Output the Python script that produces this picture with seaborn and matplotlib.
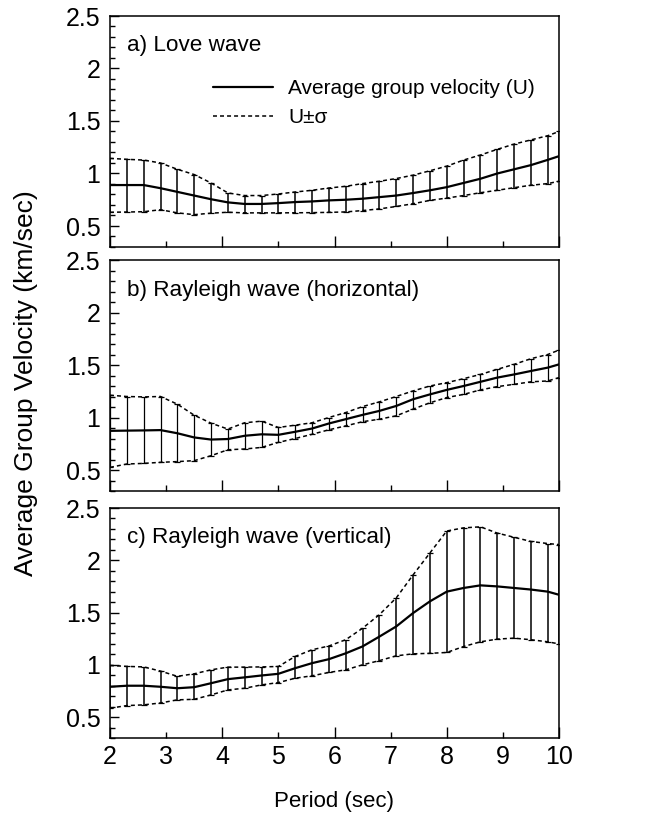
import numpy as np
import pandas as pd
import matplotlib
matplotlib.use("Agg")
import matplotlib.pyplot as plt
from matplotlib.ticker import MultipleLocator, FixedLocator, FixedFormatter
import seaborn as sns

sns.set_style("white")
plt.rcParams['font.family'] = ['Liberation Sans', 'DejaVu Sans']
plt.rcParams['text.color'] = 'black'
plt.rcParams['axes.labelcolor'] = 'black'
plt.rcParams['xtick.color'] = 'black'
plt.rcParams['ytick.color'] = 'black'

period = [2.0, 2.3, 2.6, 2.9, 3.2, 3.5, 3.8, 4.1, 4.4, 4.7, 5.0, 5.3, 5.6, 5.9,
          6.2, 6.5, 6.8, 7.1, 7.4, 7.7, 8.0, 8.3, 8.6, 8.9, 9.2, 9.5, 9.8, 10.0]

love_mean = [0.89, 0.89, 0.89, 0.86, 0.825, 0.79, 0.755, 0.725, 0.71, 0.71, 0.718, 0.728, 0.734, 0.744,
             0.75, 0.76, 0.775, 0.79, 0.814, 0.84, 0.87, 0.91, 0.95, 1.0, 1.04, 1.08, 1.13, 1.165]
love_upper = [1.144, 1.135, 1.128, 1.10, 1.04, 0.99, 0.91, 0.815, 0.79, 0.79, 0.805, 0.824, 0.84, 0.862,
              0.878, 0.904, 0.926, 0.952, 0.984, 1.026, 1.07, 1.128, 1.176, 1.23, 1.28, 1.32, 1.36, 1.40]
love_lower = [0.631, 0.633, 0.636, 0.655, 0.625, 0.608, 0.622, 0.631, 0.625, 0.625, 0.625, 0.626, 0.627, 0.63,
              0.634, 0.647, 0.663, 0.686, 0.712, 0.744, 0.766, 0.79, 0.817, 0.84, 0.865, 0.888, 0.904, 0.926]

rh_mean = [0.873, 0.875, 0.877, 0.88, 0.85, 0.81, 0.79, 0.795, 0.826, 0.84, 0.835, 0.864, 0.895, 0.943,
           0.984, 1.025, 1.063, 1.11, 1.174, 1.22, 1.263, 1.30, 1.34, 1.38, 1.41, 1.443, 1.475, 1.506]
rh_upper = [1.212, 1.20, 1.196, 1.20, 1.127, 1.022, 0.946, 0.89, 0.95, 0.965, 0.905, 0.927, 0.95, 1.0,
            1.047, 1.104, 1.149, 1.2, 1.253, 1.30, 1.332, 1.37, 1.41, 1.459, 1.506, 1.56, 1.60, 1.642]
rh_lower = [0.525, 0.557, 0.563, 0.573, 0.58, 0.589, 0.636, 0.693, 0.70, 0.715, 0.763, 0.80, 0.84, 0.883,
            0.92, 0.96, 0.984, 1.016, 1.08, 1.14, 1.19, 1.22, 1.263, 1.294, 1.316, 1.34, 1.348, 1.38]

rv_mean = [0.79, 0.80, 0.80, 0.79, 0.776, 0.786, 0.824, 0.863, 0.88, 0.898, 0.914, 0.968, 1.016, 1.054,
           1.11, 1.176, 1.27, 1.367, 1.495, 1.607, 1.70, 1.735, 1.76, 1.75, 1.735, 1.72, 1.70, 1.67]
rv_upper = [0.994, 0.985, 0.98, 0.94, 0.89, 0.914, 0.952, 0.978, 0.978, 0.98, 0.984, 1.08, 1.144, 1.18,
            1.24, 1.35, 1.48, 1.64, 1.86, 2.07, 2.28, 2.31, 2.32, 2.26, 2.22, 2.18, 2.16, 2.15]
rv_lower = [0.585, 0.61, 0.617, 0.635, 0.665, 0.67, 0.712, 0.76, 0.776, 0.808, 0.83, 0.872, 0.895, 0.927,
            0.952, 1.0, 1.04, 1.086, 1.105, 1.11, 1.118, 1.175, 1.22, 1.246, 1.255, 1.24, 1.22, 1.20]

titles = ["a) Love wave", "b) Rayleigh wave (horizontal)", "c) Rayleigh wave (vertical)"]
panels = [(love_mean, love_upper, love_lower),
          (rh_mean, rh_upper, rh_lower),
          (rv_mean, rv_upper, rv_lower)]

x_major = [2, 4, 6, 8, 10]
x_minor = [3, 5, 7, 9]
y_major = [0.5, 1, 1.5, 2, 2.5]
y_major_labels = ["0.5", "1", "1.5", "2", "2.5"]

fig = plt.figure(figsize=(6.6, 8.13), dpi=100)
W, H = 660, 813
boxes = [(16, 247), (260, 491), (508, 738)]
axes = []
for (top, bot) in boxes:
    ax = fig.add_axes([110 / W, 1 - bot / H, (559 - 110) / W, (bot - top) / H])
    axes.append(ax)

dash = (2.6, 2.0)
for i, (ax, (m, up, lo), title) in enumerate(zip(axes, panels, titles)):
    df = pd.DataFrame({"period": period, "mean": m, "upper": up, "lower": lo})
    sns.lineplot(data=df, x="period", y="mean", ax=ax, color="black", lw=1.6,
                 label="Average group velocity (U)" if i == 0 else None)
    sns.lineplot(data=df, x="period", y="upper", ax=ax, color="black", lw=1.1,
                 label="U±σ" if i == 0 else None).lines[-1].set_dashes(dash)
    l2 = sns.lineplot(data=df, x="period", y="lower", ax=ax, color="black", lw=1.1)
    l2.lines[-1].set_dashes(dash)
    ax.errorbar(df["period"], df["mean"],
                yerr=[df["mean"] - df["lower"], df["upper"] - df["mean"]],
                fmt="none", ecolor="black", elinewidth=1.1 if i != 1 else 0.9,
                capsize=2, capthick=0.9)

    ax.set_xlim(2, 10)
    ax.set_ylim(0.3, 2.5)
    ax.set_xlabel("")
    ax.set_ylabel("")
    for s in ax.spines.values():
        s.set_visible(True)
        s.set_color("black")
        s.set_linewidth(1.1)
    ax.xaxis.set_major_locator(FixedLocator(x_major))
    ax.xaxis.set_minor_locator(FixedLocator(x_minor))
    ax.yaxis.set_major_locator(FixedLocator(y_major))
    ax.yaxis.set_major_formatter(FixedFormatter(y_major_labels))
    ax.yaxis.set_minor_locator(MultipleLocator(0.1))
    ax.tick_params(axis="both", which="both", direction="in", top=False, right=False,
                   left=True, bottom=True, colors="black", labelcolor="black",
                   labelsize=18, pad=7)
    ax.tick_params(axis="x", which="major", length=8, width=1.0)
    ax.tick_params(axis="x", which="minor", length=4.5, width=1.0)
    ax.tick_params(axis="y", which="major", length=6.5, width=1.0)
    ax.tick_params(axis="y", which="minor", length=3.5, width=1.0)
    if i < 2:
        ax.tick_params(axis="x", which="both", labelbottom=False)
    else:
        ax.xaxis.set_major_formatter(FixedFormatter([str(v) for v in x_major]))
        ax.xaxis.set_minor_formatter(FixedFormatter([str(v) for v in x_minor]))
        ax.tick_params(axis="x", which="both", labelsize=18, pad=5)
    ax.text(0.038, 1 - 30 / 231, title, transform=ax.transAxes, fontsize=16.2,
            ha="left", va="center", color="black")
    if i == 0:
        leg = ax.legend(loc="upper left", bbox_to_anchor=(0.23, 1 - 63 / 231),
                        frameon=False, fontsize=15, handlelength=2.85,
                        handletextpad=0.75, borderpad=0, borderaxespad=0,
                        labelspacing=0.5, labelcolor="black")
    else:
        if ax.get_legend() is not None:
            ax.get_legend().remove()

axes[2].set_xlabel("Period (sec)", fontsize=16, labelpad=16, color="black")
fig.text(26 / W, 1 - 383 / H, "Average Group Velocity (km/sec)", rotation=90,
         fontsize=19, ha="center", va="center", color="black")

fig.savefig("out.png", dpi=100)
